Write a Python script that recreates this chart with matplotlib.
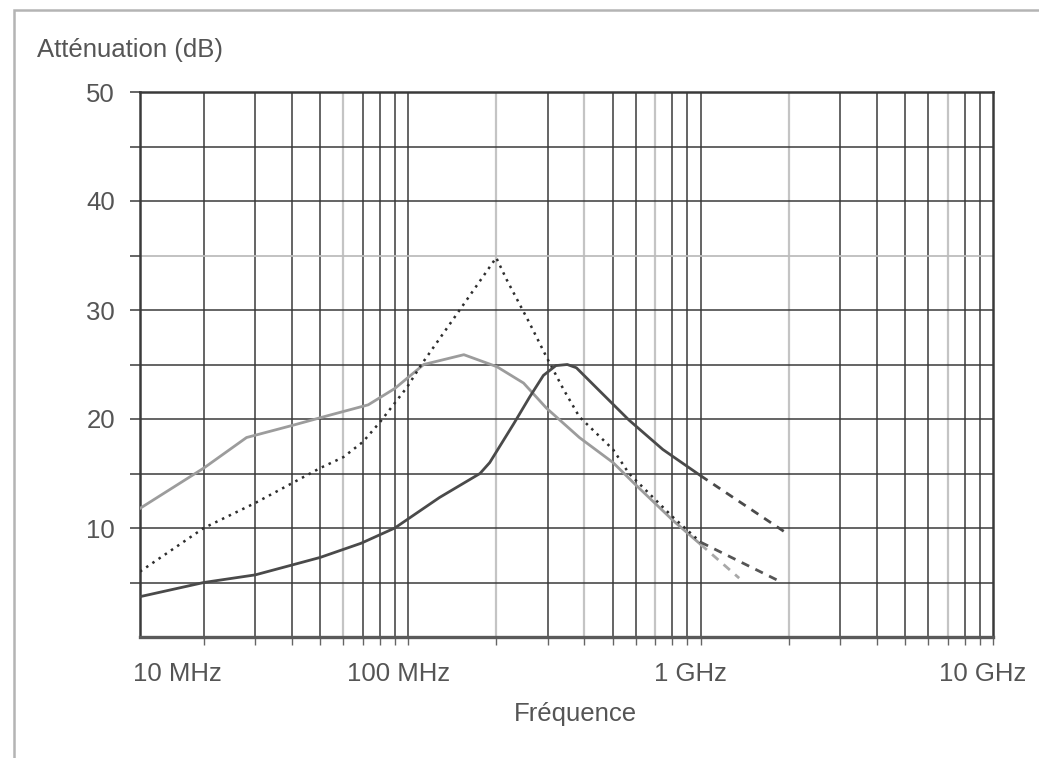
import matplotlib
matplotlib.use("Agg")
import matplotlib.pyplot as plt
import matplotlib.transforms as mtransforms
from matplotlib.patches import Rectangle

plt.rcParams['font.family'] = ['Liberation Sans', 'DejaVu Sans']

# values (frequency in MHz, attenuation in dB)
freq_gray = [12.1, 20, 28, 40, 53, 73, 90, 113, 155, 201, 248, 297, 385, 502, 587, 804, 1000]
att_gray = [11.8, 15.5, 18.3, 19.4, 20.3, 21.3, 22.8, 25.0, 25.9, 24.8, 23.3, 21.0, 18.3, 16.0, 14.2, 10.7, 8.5]
freq_gray_ext = [1000, 1355]
att_gray_ext = [8.5, 5.4]

freq_dark = [12.1, 20, 30, 40, 50, 69, 90, 128, 176, 190, 230, 260, 290, 320, 350, 376, 439, 569, 743, 1000]
att_dark = [3.7, 5.0, 5.7, 6.6, 7.3, 8.6, 10.0, 12.8, 15.0, 16.0, 19.6, 22.0, 24.0, 24.9, 25.0, 24.7, 22.9, 19.9, 17.2, 14.8]
freq_dark_ext = [1000, 2000]
att_dark_ext = [14.8, 9.4]

freq_dot = [12.1, 20, 30, 40, 50, 60, 70, 80, 99, 111, 150, 200, 217, 260, 297, 340, 385, 502, 569, 804, 1000]
att_dot = [6.0, 10.0, 12.3, 14.1, 15.5, 16.5, 17.9, 19.7, 22.9, 25.0, 30.0, 34.8, 32.8, 28.8, 25.7, 22.7, 20.2, 17.2, 15.0, 11.0, 8.7]
freq_dot_ext = [1000, 1900]
att_dot_ext = [8.7, 5.0]

y_ticks = [10, 20, 30, 40, 50]
x_labels = {100: '100 MHz', 1000: '1 GHz', 10000: '10 GHz'}

fs = 18.5
txt = '#555555'

fig = plt.figure(figsize=(10.39, 7.58), dpi=100)
fig.patches.append(Rectangle((14 / 1039, -0.1), 1.2, 1.1 - 10 / 758, transform=fig.transFigure,
                             fill=False, edgecolor='#b4b4b4', lw=1.8))
ax = fig.add_axes([140 / 1039, 1 - 637 / 758, 853 / 1039, 545 / 758])
ax.set_xscale('log')
ax.set_xlim(12.1, 10000)
ax.set_ylim(0, 50)

# grid: every 1..9 x decade, a few drawn lighter as in the scan
grid_f = [m * 10 ** k for k in (1, 2, 3) for m in range(1, 10) if 12.1 < m * 10 ** k <= 10000]
light = {60, 200, 400, 700, 2000, 7000}
for f in grid_f:
    if f in light:
        ax.axvline(f, color='#c4c4c4', lw=1.6, zorder=1)
    else:
        ax.axvline(f, color='#3a3a3a', lw=1.1, zorder=1)
for v in range(5, 50, 5):
    ax.axhline(v, color='#bdbdbd' if v == 35 else '#3a3a3a', lw=1.3 if v == 35 else 1.1, zorder=1)

ax.plot(freq_gray, att_gray, color='#9c9c9c', lw=2.0, zorder=3)
ax.plot(freq_gray_ext, att_gray_ext, color='#a8a8a8', lw=2.0, ls=(0, (3, 2.5)), zorder=3)
ax.plot(freq_dark, att_dark, color='#4a4a4a', lw=2.0, zorder=4)
ax.plot(freq_dark_ext, att_dark_ext, color='#4a4a4a', lw=2.0, ls=(0, (3, 2.5)), zorder=4)
ax.plot(freq_dot, att_dot, color='#2e2e2e', lw=1.8, ls=(0, (1, 2)), zorder=3)
ax.plot(freq_dot_ext, att_dot_ext, color='#555555', lw=2.0, ls=(0, (3, 2.5)), zorder=3)

for s in ax.spines.values():
    s.set_color('#3a3a3a')
    s.set_linewidth(1.8)
ax.spines['bottom'].set_color('#5a5a5a')
ax.spines['bottom'].set_linewidth(2.4)

ax.set_xticks(list(x_labels.keys()))
ax.set_xticklabels(list(x_labels.values()))
ax.set_xticks(grid_f, minor=True)
ax.tick_params(axis='x', which='both', length=6, width=1.0, color='#666666',
               labelsize=fs, labelcolor=txt, pad=12)
offset = mtransforms.ScaledTranslation(-10 / 100, 0, fig.dpi_scale_trans)
for lab in ax.get_xticklabels():
    lab.set_transform(lab.get_transform() + offset)
ax.text(-7 / 853, -25 / 545, '10 MHz', transform=ax.transAxes, ha='left', va='top',
        fontsize=fs, color=txt)

ax.set_yticks(y_ticks)
ax.set_yticks(range(5, 50, 10), minor=True)
ax.tick_params(axis='y', which='both', length=7, width=1.1, color='#3a3a3a',
               labelsize=fs, labelcolor=txt, pad=11)

fig.text(37 / 1039, 1 - 50 / 758, 'Atténuation (dB)', ha='left', va='center',
         fontsize=fs, color=txt)
fig.text(575 / 1039, 1 - 714 / 758, 'Fréquence', ha='center', va='center',
         fontsize=fs, color=txt)

fig.savefig('out.png', dpi=100)
